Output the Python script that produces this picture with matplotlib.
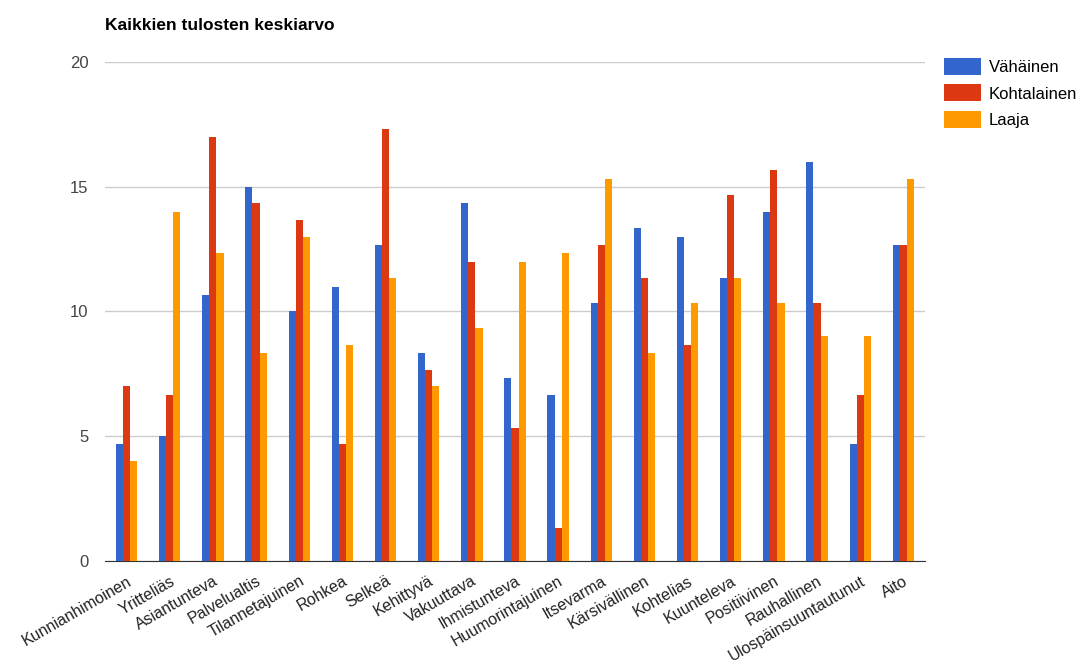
import numpy as np
import matplotlib.pyplot as plt

plt.rcParams["font.family"] = ["Liberation Sans", "DejaVu Sans"]

categories = ["Kunnianhimoinen", "Yritteliäs", "Asiantunteva", "Palvelualtis",
              "Tilannetajuinen", "Rohkea", "Selkeä", "Kehittyvä", "Vakuuttava",
              "Ihmistunteva", "Huumorintajuinen", "Itsevarma", "Kärsivällinen",
              "Kohtelias", "Kuunteleva", "Positiivinen", "Rauhallinen",
              "Ulospäinsuuntautunut", "Aito"]
vahainen = [4.67, 5, 10.67, 15, 10, 11, 12.67, 8.33, 14.33, 7.33, 6.67,
            10.33, 13.33, 13, 11.33, 14, 16, 4.67, 12.67]
kohtalainen = [7, 6.67, 17, 14.33, 13.67, 4.67, 17.33, 7.67, 12, 5.33, 1.33,
               12.67, 11.33, 8.67, 14.67, 15.67, 10.33, 6.67, 12.67]
laaja = [4, 14, 12.33, 8.33, 13, 8.67, 11.33, 7, 9.33, 12, 12.33,
         15.33, 8.33, 10.33, 11.33, 10.33, 9, 9, 15.33]
series_names = ["Vähäinen", "Kohtalainen", "Laaja"]
colors = ["#3366cc", "#dc3912", "#ff9900"]

fig = plt.figure(figsize=(10.76, 6.67), dpi=100)
ax = fig.add_axes([0.0976, 0.159, 0.762, 0.748])

x = np.arange(len(categories))
w = 0.165
for i, (vals, name, c) in enumerate(zip([vahainen, kohtalainen, laaja], series_names, colors)):
    ax.bar(x + (i - 1) * w, vals, width=w, color=c, label=name, zorder=3)

ax.set_xlim(-0.5, len(categories) - 0.5)
ax.set_ylim(0, 20)
ax.set_yticks([0, 5, 10, 15, 20])
ax.grid(axis="y", color="#cccccc", linewidth=1, zorder=0)
for s in ["top", "right", "left"]:
    ax.spines[s].set_visible(False)
ax.spines["bottom"].set_color("#333333")
ax.tick_params(axis="y", length=0, pad=12, labelsize=12, labelcolor="#444444")
ax.tick_params(axis="x", length=0, pad=9, labelsize=11.5, labelcolor="#222222")
ax.set_xticks(x)
ax.set_xticklabels(categories, rotation=30, ha="right", rotation_mode="anchor")

fig.text(0.0976, 0.962, "Kaikkien tulosten keskiarvo", fontsize=12.5,
         fontweight="bold", ha="left", va="center")

fig.legend(loc="upper left", bbox_to_anchor=(944 / 1076, 1 - 58 / 667),
           borderaxespad=0, borderpad=0, frameon=False, fontsize=12,
           handlelength=2.2, handleheight=1.2, labelspacing=0.55,
           handletextpad=0.5)

fig.savefig("out.png", dpi=100)
